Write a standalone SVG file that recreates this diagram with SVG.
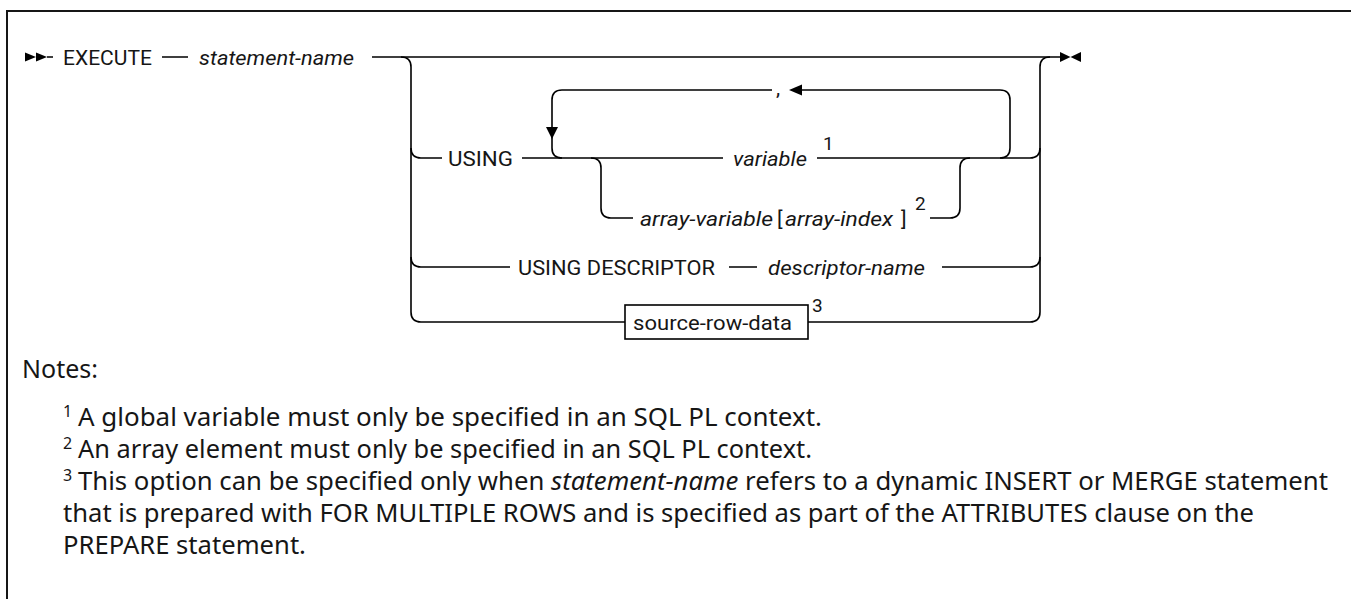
<svg xmlns="http://www.w3.org/2000/svg" width="1351" height="599" viewBox="0 0 1351 599">
<style>
.ln{fill:none;stroke:#000;stroke-width:1.6}
.ah{fill:#000;stroke:none}
.t{font-family:Roboto,"Liberation Sans",sans-serif;font-size:21px;fill:#161616}
.i{font-style:italic}
.sup{font-family:Roboto,"Liberation Sans",sans-serif;font-size:19px;fill:#161616}
.n{font-family:"Noto Sans","Liberation Sans",sans-serif;font-size:25px;fill:#161616}
.ns{font-family:"Noto Sans","Liberation Sans",sans-serif;font-size:16px;fill:#161616}
.box{fill:#fff;stroke:#000;stroke-width:1.6}
</style>
<rect width="1351" height="599" fill="#fff"/>
<path d="M7,600 V11 H1352" fill="none" stroke="#161616" stroke-width="2"/>

<g id="connectors">
  <path class="ln" d="M47,57 H53 M162,57 H188 M372,57 H1060"/>
  <path class="ln" d="M401,57 Q411,57 411,67 V312 Q411,322 421,322 H625"/>
  <path class="ln" d="M411,148 Q411,158 421,158 H442"/>
  <path class="ln" d="M411,257 Q411,267 421,267 H510"/>
  <path class="ln" d="M522,158 H723 M817,158 H1030 Q1040,158 1040,148"/>
  <path class="ln" d="M1040,312 V67 Q1040,57 1050,57"/>
  <path class="ln" d="M729,267 H757 M942,267 H1030 Q1040,267 1040,257"/>
  <path class="ln" d="M808,322 H1030 Q1040,322 1040,312"/>
  <path class="ln" d="M772,90 H562 Q552,90 552,100 V148 Q552,158 562,158"/>
  <path class="ln" d="M802,90 H1000 Q1010,90 1010,100 V148 Q1010,158 1000,158"/>
  <path class="ln" d="M591,158 Q601,158 601,168 V208 Q601,218 611,218 H633"/>
  <path class="ln" d="M930,218 H950 Q960,218 960,208 V168 Q960,158 970,158"/>
  <polygon class="ah" points="546,127 558,127 552,139"/>
  <polygon class="ah" points="789,90 802,84.5 802,95.5"/>
  <polygon class="ah" points="25,52.5 36,57 25,61.5"/>
  <polygon class="ah" points="36,52.5 47,57 36,61.5"/>
  <polygon class="ah" points="1060,52 1070.5,57 1060,62"/>
  <polygon class="ah" points="1081,52 1070.5,57 1081,62"/>
</g>

<g id="execute"><text class="t" x="63" y="65" textLength="89" lengthAdjust="spacingAndGlyphs">EXECUTE</text></g>
<g id="statement-name"><text class="t i" x="199" y="65" textLength="155" lengthAdjust="spacingAndGlyphs">statement-name</text></g>
<g id="using"><text class="t" x="448" y="165.5" textLength="65" lengthAdjust="spacingAndGlyphs">USING</text></g>
<g id="comma"><text class="t" x="776" y="95">,</text></g>
<g id="variable">
  <text class="t i" x="733" y="165.5" textLength="74" lengthAdjust="spacingAndGlyphs">variable</text>
  <text class="sup" x="823" y="150">1</text>
</g>
<g id="array-variable">
  <text class="t i" x="640" y="225.5" textLength="133" lengthAdjust="spacingAndGlyphs">array-variable</text>
  <text class="t" x="777" y="225.5">[</text>
  <text class="t i" x="785" y="225.5" textLength="108" lengthAdjust="spacingAndGlyphs">array-index</text>
  <text class="t" x="901" y="225.5">]</text>
  <text class="sup" x="915" y="210">2</text>
</g>
<g id="using-descriptor">
  <text class="t" x="518" y="274.5" textLength="197" lengthAdjust="spacingAndGlyphs">USING DESCRIPTOR</text>
  <text class="t i" x="768" y="274.5" textLength="157" lengthAdjust="spacingAndGlyphs">descriptor-name</text>
</g>
<g id="source-row-data">
  <rect class="box" x="625" y="305" width="183" height="34"/>
  <text class="t" x="633" y="329.5" textLength="159" lengthAdjust="spacingAndGlyphs">source-row-data</text>
  <text class="sup" x="812" y="312">3</text>
</g>

<g id="notes">
  <text class="n" x="22" y="378">Notes:</text>
  <text class="ns" x="63" y="417">1</text>
  <text class="n" x="78" y="426" textLength="744" lengthAdjust="spacingAndGlyphs">A global variable must only be specified in an SQL PL context.</text>
  <text class="ns" x="63" y="449">2</text>
  <text class="n" x="78" y="458" textLength="734" lengthAdjust="spacingAndGlyphs">An array element must only be specified in an SQL PL context.</text>
  <text class="ns" x="63" y="481">3</text>
  <text class="n" x="78" y="490" textLength="1250" lengthAdjust="spacingAndGlyphs">This option can be specified only when <tspan font-style="italic">statement-name</tspan> refers to a dynamic INSERT or MERGE statement</text>
  <text class="n" x="63" y="522" textLength="1191" lengthAdjust="spacingAndGlyphs">that is prepared with FOR MULTIPLE ROWS and is specified as part of the ATTRIBUTES clause on the</text>
  <text class="n" x="63" y="554" textLength="243" lengthAdjust="spacingAndGlyphs">PREPARE statement.</text>
</g>
</svg>
